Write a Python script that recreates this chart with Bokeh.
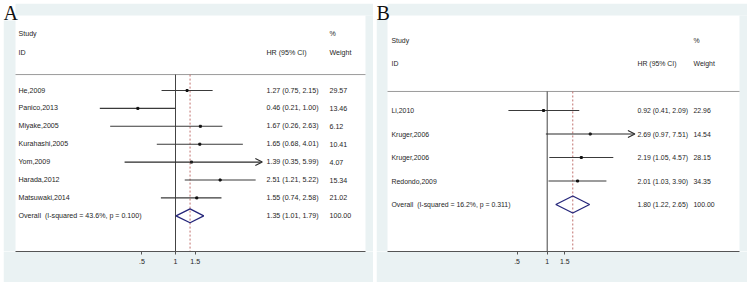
import math
from bokeh.plotting import figure
from bokeh.models import (Range1d, FixedTicker, ColumnDataSource, Arrow, OpenHead,
                          LinearScale)
from bokeh.layouts import row
from bokeh.embed import file_html
from bokeh.resources import INLINE
from bokeh.core.properties import value

# ---------------- data ----------------
x_ticks = [0.5, 1, 1.5]
x_tick_labels = [".5", "1", "1.5"]
null_value = 1.0

a_studies = ["He,2009", "Panico,2013", "Miyake,2005", "Kurahashi,2005",
             "Yom,2009", "Harada,2012", "Matsuwaki,2014"]
a_hr = [1.27, 0.46, 1.67, 1.65, 1.39, 2.51, 1.55]
a_lo = [0.75, 0.21, 0.26, 0.68, 0.35, 1.21, 0.74]
a_hi = [2.15, 1.00, 2.63, 4.01, 5.99, 5.22, 2.58]
a_weight = [29.57, 13.46, 6.12, 10.41, 4.07, 15.34, 21.02]
a_truncated = [False, False, False, False, True, False, False]
a_overall = [1.35, 1.01, 1.79]
a_overall_label = "Overall\u00a0 (I-squared = 43.6%, p = 0.100)"

b_studies = ["Li,2010", "Kruger,2006", "Kruger,2006", "Redondo,2009"]
b_hr = [0.92, 2.69, 2.19, 2.01]
b_lo = [0.41, 0.97, 1.05, 1.03]
b_hi = [2.09, 7.51, 4.57, 3.90]
b_weight = [22.96, 14.54, 28.15, 34.35]
b_truncated = [False, True, False, False]
b_overall = [1.80, 1.22, 2.65]
b_overall_label = "Overall\u00a0 (I-squared = 16.2%, p = 0.311)"

header_study = "Study"
header_id = "ID"
header_hr = "HR (95% CI)"
header_pct = "%"
header_weight = "Weight"

# ---------------- style ----------------
FONT = "Liberation Sans"
TEXT_COLOR = "#262626"
BORDER_BG = "#EAF2F3"


def make_panel(letter, studies, hr, lo, hi, weight, trunc, overall, overall_label, g):
    fw = g["width"]
    fh = g["height"] - g["bottom"]
    x_start = math.exp(-g["px_one"] / g["scale"])
    x_end = math.exp((fw - g["px_one"]) / g["scale"])
    y_top = -g["row0"] / g["spacing"]
    y_bottom = (fh - g["row0"]) / g["spacing"]
    wl, wr, wt_ = g["white_l"], g["white_r"], g["white_t"]

    p = figure(width=g["width"], height=g["height"], x_axis_type="log",
               x_range=Range1d(x_start, x_end), y_range=Range1d(y_bottom, y_top),
               y_axis_location=None, toolbar_location=None, output_backend="svg",
               title=None, min_border_left=0, min_border_right=0,
               min_border_top=0, min_border_bottom=g["bottom"])
    p.extra_x_ranges = {"px": Range1d(0, fw)}
    p.extra_x_scales = {"px": LinearScale()}
    p.extra_y_ranges = {"py": Range1d(fh, 0)}
    p.extra_y_scales = {"py": LinearScale()}
    p.background_fill_color = "white"
    p.border_fill_color = BORDER_BG
    p.outline_line_color = None
    p.grid.visible = False
    p.margin = g["margin"]

    # grey graph-region bands around the white plot region (letter corner left white)
    p.quad(left=[wl, 0, wr], right=[fw, wl, fw], top=[0, g["letter_h"], wt_],
           bottom=[wt_, fh, fh], x_range_name="px", y_range_name="py",
           fill_color=BORDER_BG, line_color=None)

    ax = p.xaxis[0]
    ax.ticker = FixedTicker(ticks=x_ticks, minor_ticks=[])
    ax.major_label_overrides = {t: l for t, l in zip(x_ticks, x_tick_labels)}
    ax.bounds = (math.exp((wl - g["px_one"]) / g["scale"]),
                 math.exp((wr - g["px_one"]) / g["scale"]))
    ax.axis_line_color = "#555555"
    ax.axis_line_width = 1
    ax.major_tick_line_color = "#555555"
    ax.major_tick_out = 3
    ax.major_tick_in = 0
    ax.minor_tick_line_color = None
    ax.major_label_standoff = 4
    ax.major_label_text_font = FONT
    ax.major_label_text_font_size = g["font"]
    ax.major_label_text_color = TEXT_COLOR

    n = len(studies)
    rows = list(range(n))
    ov_row = n

    # separator under header
    p.segment(x0=[wl], x1=[wr], y0=[g["sep_row"]], y1=[g["sep_row"]], x_range_name="px",
              line_color="#9a9a9a", line_width=1)

    # null line and overall dashed line
    p.segment(x0=[null_value], x1=[null_value], y0=[g["sep_row"]], y1=[y_bottom],
              line_color="#444444", line_width=1)
    p.segment(x0=[overall[0]], x1=[overall[0]], y0=[g["sep_row"]], y1=[y_bottom],
              line_color="#c0706e", line_width=1, line_dash="2 2")

    # CIs
    full = [i for i in rows if not trunc[i]]
    cut = [i for i in rows if trunc[i]]
    p.segment(x0=[lo[i] for i in full], x1=[hi[i] for i in full],
              y0=[rows[i] for i in full], y1=[rows[i] for i in full],
              line_color="#3a3a3a", line_width=1.1)
    if cut:
        asrc = ColumnDataSource(dict(x0=[lo[i] for i in cut], x1=[hi[i] for i in cut],
                                     y=[rows[i] for i in cut]))
        p.add_layout(Arrow(x_start="x0", x_end="x1", y_start="y", y_end="y", source=asrc,
                           line_color="#2a2a2a", line_width=1.1,
                           end=OpenHead(size=7, line_color="#2a2a2a", line_width=1.1)))
    p.scatter(x=hr, y=rows, marker="square", size=2, color="#111111")

    # overall diamond
    h = g["diamond"]
    p.patch(x=[overall[1], overall[0], overall[2], overall[0]],
            y=[ov_row, ov_row - h, ov_row, ov_row + h],
            fill_color=None, line_color="#25267a", line_width=1.3)

    # texts
    names = studies + [overall_label]
    ys = rows + [ov_row]
    hrt = [f"{a:.2f} ({b:.2f}, {c:.2f})" for a, b, c in
           zip(hr + [overall[0]], lo + [overall[1]], hi + [overall[2]])]
    wts = [f"{w:.2f}" for w in weight + [100.0]]
    tkw = dict(x_range_name="px", text_font=value(FONT), text_font_size=g["font"],
               text_color=TEXT_COLOR, text_baseline="middle", text_align="left")
    p.text(x=[g["name_x"]] * len(names), y=ys, text=names, **tkw)
    p.text(x=[g["hr_x"]] * len(names), y=ys, text=hrt, **tkw)
    p.text(x=[g["w_x"]] * len(names), y=ys, text=wts, **tkw)
    p.text(x=[g["name_x"], g["name_x"], g["hr_x"], g["w_x"], g["w_x"]],
           y=[g["study_row"], g["id_row"], g["id_row"], g["study_row"], g["id_row"]],
           text=[header_study, header_id, header_hr, header_pct, header_weight], **tkw)

    # panel letter
    p.text(x=[g["letter_x"]], y=[g["letter_base"]], text=[letter],
           x_range_name="px", y_range_name="py",
           text_font=value("Liberation Serif"), text_font_size="20px",
           text_color="#111111", text_baseline="alphabetic", text_align="left")
    return p


geom_a = dict(width=370, height=279, bottom=31, margin=(3, 0, 1, 3),
              white_l=12, white_r=362, white_t=12, letter_h=17,
              px_one=172, scale=48.5, row0=87, spacing=17.9,
              study_row=-3.13, id_row=-2.12, sep_row=-0.89,
              name_x=15, hr_x=263, w_x=326, font="7.1px", diamond=0.39,
              letter_x=0, letter_base=9)
geom_b = dict(width=371, height=279, bottom=31, margin=(3, 0, 1, 3),
              white_l=11, white_r=363, white_t=12, letter_h=16,
              px_one=170.7, scale=43.5, row0=107, spacing=23.5,
              study_row=-2.98, id_row=-2.01, sep_row=-0.81,
              name_x=15, hr_x=261, w_x=317, font="6.9px", diamond=0.36,
              letter_x=0, letter_base=9)

pa = make_panel("A", a_studies, a_hr, a_lo, a_hi, a_weight, a_truncated,
                a_overall, a_overall_label, geom_a)
pb = make_panel("B", b_studies, b_hr, b_lo, b_hi, b_weight, b_truncated,
                b_overall, b_overall_label, geom_b)

layout = row(pa, pb)
open("out.html", "w").write(file_html(layout, INLINE))
